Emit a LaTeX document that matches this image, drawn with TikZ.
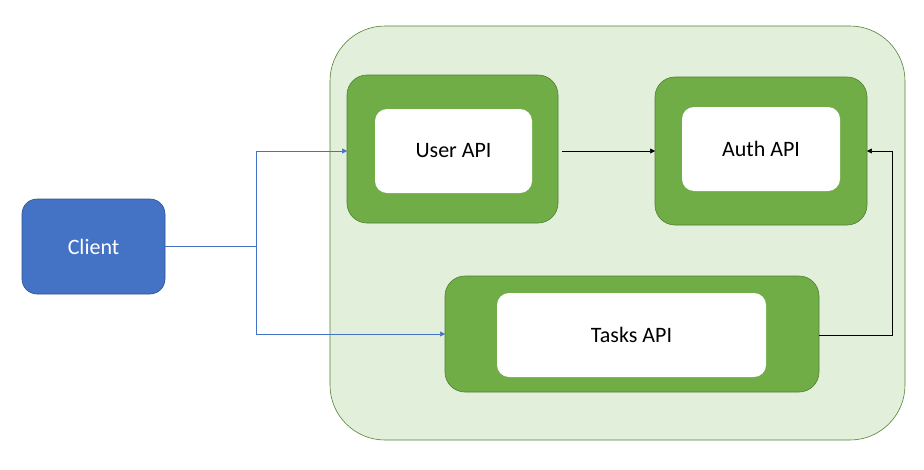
\documentclass[tikz,border=0pt]{standalone}
\usepackage{fontspec}
\setmainfont{Carlito}
\usepackage{tikz}
\usetikzlibrary{calc}
\usetikzlibrary{arrows.meta}
\tikzset{>={Triangle[width=1.7mm,length=1.7mm]}}
\definecolor{clientblue}{HTML}{4472C4}
\definecolor{clientedge}{HTML}{2F528F}
\definecolor{apigreen}{HTML}{70AD47}
\definecolor{apiedge}{HTML}{507E32}
\definecolor{zonegreen}{HTML}{E2EFDA}
\definecolor{zoneedge}{HTML}{548235}

\begin{document}
\begin{tikzpicture}[
    x = 1pt, y = -1pt,
    zone/.style = {draw=zoneedge, fill=zonegreen, semithick, rounded corners=55pt},
    api/.style = {draw=apiedge, fill=apigreen, semithick, rounded corners=20pt,
        inner sep = 0pt, outer sep = 0pt},
    card/.style = {fill=white, rounded corners=12pt, inner sep = 0pt,
        font=\fontsize{22}{26}\selectfont},
    client/.style = {draw=clientedge, fill=clientblue, semithick, rounded corners=15pt,
        text=white, inner sep = 0pt, font=\fontsize{22}{26}\selectfont},
    link/.style = {->, draw=black, thin},
    request/.style = {->, draw=clientblue, thin}
  ]
  \useasboundingbox (0,0) rectangle (924,469);

  % container
  \draw[zone] (330,26) rectangle (905,440);

  % services
  \node[api, minimum width=211pt, minimum height=148pt] (USER) at (452.5,149) {};
  \node[card, minimum width=157pt, minimum height=84pt] (USERT) at (453.5,151) {User API};

  \node[api, minimum width=212pt, minimum height=148pt] (AUTH) at (761,151) {};
  \node[card, minimum width=158pt, minimum height=84pt] (AUTHT) at (761,149) {Auth API};

  \node[api, minimum width=374pt, minimum height=116pt] (TASKS) at (632,334) {};
  \node[card, minimum width=269pt, minimum height=84pt] (TASKST) at (631.5,335) {Tasks API};

  % client
  \node[client, minimum width=143pt, minimum height=95pt] (CLIENT) at (93.5,246.5) {Client};

  \coordinate (SPLIT) at (256,246.5);
  \coordinate (BEND) at (892,335);

  \draw[request] (CLIENT.east) -- (SPLIT) |- (USER.west |- 0,151);
  \draw[request] (SPLIT) |- (TASKS.west |- 0,334);
  \draw[link] ($(USER.east |- 0,151)+(4,0)$) -- (AUTH.west |- 0,151);
  \draw[link] (TASKS.east |- 0,335) -- (BEND) |- (AUTH.east |- 0,151);
\end{tikzpicture}
\end{document}
